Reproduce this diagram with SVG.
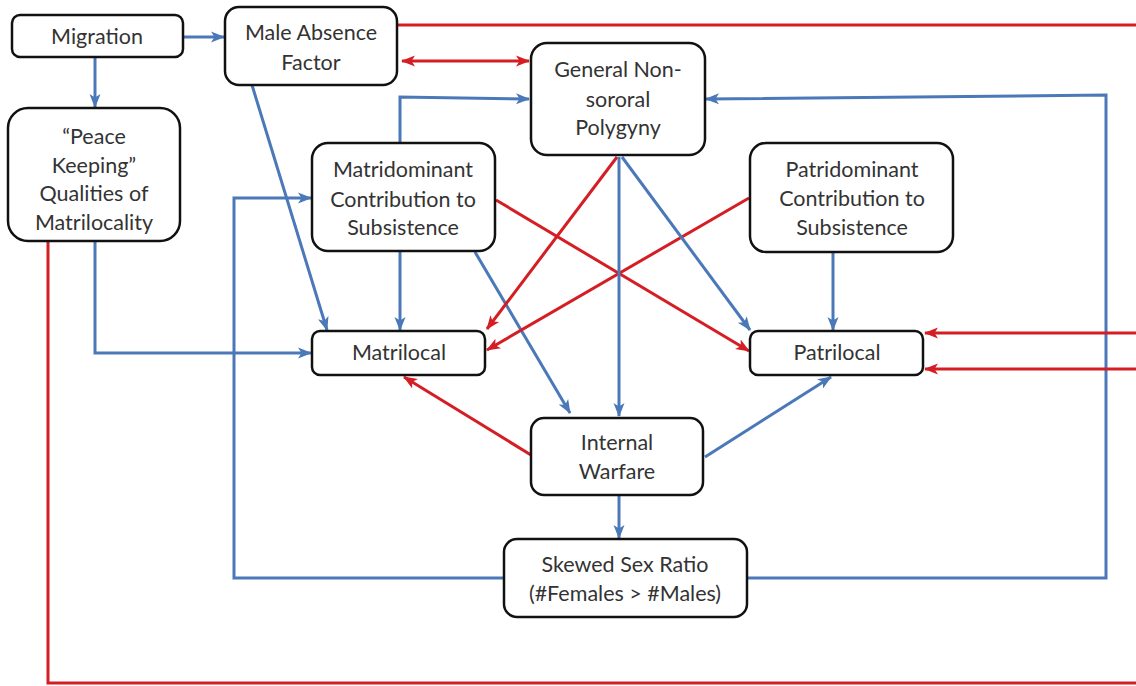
<svg xmlns="http://www.w3.org/2000/svg" width="1136" height="686" viewBox="0 0 1136 686">
<defs>
<marker id="ab" markerUnits="userSpaceOnUse" markerWidth="14" markerHeight="14" viewBox="0 0 14 14" refX="13" refY="7" orient="auto"><path d="M0,1.5 L14,7 L0,12.5 L3.5,7 Z" fill="#4a78b8"/></marker>
<marker id="ar" markerUnits="userSpaceOnUse" markerWidth="14" markerHeight="14" viewBox="0 0 14 14" refX="13" refY="7" orient="auto"><path d="M0,1.5 L14,7 L0,12.5 L3.5,7 Z" fill="#d41e24"/></marker>
<marker id="ars" markerUnits="userSpaceOnUse" markerWidth="14" markerHeight="14" viewBox="0 0 14 14" refX="1" refY="7" orient="auto"><path d="M14,1.5 L0,7 L14,12.5 L10.5,7 Z" fill="#d41e24"/></marker>
</defs>
<style>
.n{fill:#fff;stroke:#111;stroke-width:2.5}
.t{font-family:Lato,"Noto Sans",sans-serif;font-size:21.5px;fill:#333;text-anchor:middle}
.b{fill:none;stroke:#4a78b8;stroke-width:3}
.r{fill:none;stroke:#d41e24;stroke-width:3}
.ba{marker-end:url(#ab)}
.ra{marker-end:url(#ar)}
</style>
<rect width="1136" height="686" fill="#fff"/>
<g id="connectors">
<path class="b ba" d="M183,37 L224,37"/>
<path class="b ba" d="M95,57 L95,107"/>
<path class="r" d="M397,25 L1136,25"/>
<path class="r ra" d="M402,61 L529,61" marker-start="url(#ars)"/>
<path class="b ba" d="M400,143 L400,97 L529,99"/>
<path class="b ba" d="M747,578 L1106,578 L1106,95 L706,99"/>
<path class="b ba" d="M504,578 L234,578 L234,198 L311,198"/>
<path class="b ba" d="M95,241 L95,353 L311,353"/>
<path class="r" d="M48,241 L48,683 L1136,683"/>
<path class="b ba" d="M252,85 L327,330"/>
<path class="b ba" d="M400,251 L400,330"/>
<path class="b ba" d="M475,252 L570,413"/>
<path class="r ra" d="M496,200 L749,351"/>
<path class="r ra" d="M617,157 L487,329"/>
<path class="r ra" d="M749,198 L487,350"/>
<path class="b ba" d="M619,157 L619,416"/>
<path class="b ba" d="M622,157 L750,330"/>
<path class="b ba" d="M833,252 L833,330"/>
<path class="r ra" d="M531,455 L404,377"/>
<path class="b ba" d="M705,457 L831,377"/>
<path class="b ba" d="M619,495 L619,538"/>
<path class="r ra" d="M1136,333 L925,333"/>
<path class="r ra" d="M1136,369 L925,369"/>
</g>
<g id="migration"><rect class="n" x="12" y="15" width="171" height="42" rx="8"/><text class="t" x="97" y="44">Migration</text></g>
<g id="male-absence"><rect class="n" x="225" y="7" width="172" height="78" rx="14"/><text class="t" x="311" y="40">Male Absence</text><text class="t" x="311" y="70">Factor</text></g>
<g id="peace-keeping"><rect class="n" x="8" y="108" width="172" height="133" rx="20"/><text class="t" x="94" y="144">“Peace</text><text class="t" x="94" y="173">Keeping”</text><text class="t" x="94" y="201">Qualities of</text><text class="t" x="94" y="230">Matrilocality</text></g>
<g id="polygyny"><rect class="n" x="531" y="43" width="174" height="112" rx="16"/><text class="t" x="618" y="77">General Non-</text><text class="t" x="618" y="107">sororal</text><text class="t" x="618" y="135">Polygyny</text></g>
<g id="matridominant"><rect class="n" x="312" y="143" width="183" height="108" rx="16"/><text class="t" x="403" y="177">Matridominant</text><text class="t" x="403" y="207">Contribution to</text><text class="t" x="403" y="235">Subsistence</text></g>
<g id="patridominant"><rect class="n" x="750" y="143" width="203" height="109" rx="16"/><text class="t" x="852" y="177">Patridominant</text><text class="t" x="852" y="206">Contribution to</text><text class="t" x="852" y="235">Subsistence</text></g>
<g id="matrilocal"><rect class="n" x="312" y="331" width="173" height="44" rx="8"/><text class="t" x="399" y="360">Matrilocal</text></g>
<g id="patrilocal"><rect class="n" x="750" y="331" width="173" height="44" rx="8"/><text class="t" x="837" y="360">Patrilocal</text></g>
<g id="internal-warfare"><rect class="n" x="531" y="418" width="172" height="77" rx="13"/><text class="t" x="617" y="450">Internal</text><text class="t" x="617" y="479">Warfare</text></g>
<g id="skewed"><rect class="n" x="504" y="539" width="243" height="78" rx="13"/><text class="t" x="625" y="572">Skewed Sex Ratio</text><text class="t" x="625" y="601">(#Females &gt; #Males)</text></g>
</svg>
